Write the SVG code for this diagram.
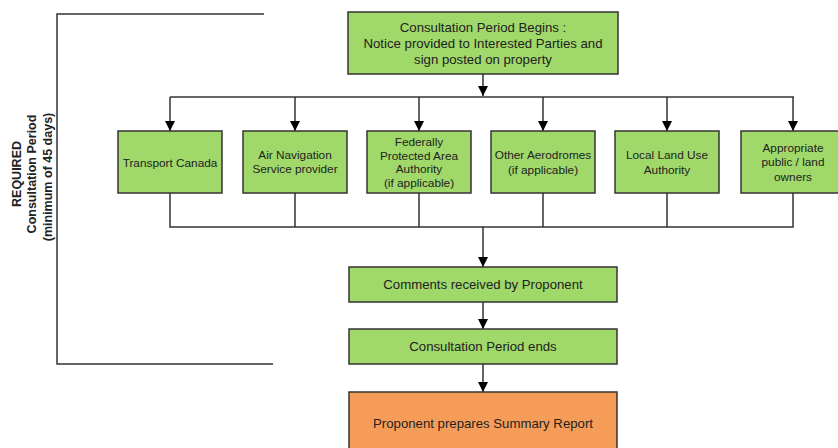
<svg xmlns="http://www.w3.org/2000/svg" width="838" height="448" viewBox="0 0 838 448">
<style>
.g{fill:#a0d86a;stroke:#333;stroke-width:1.5}
.o{fill:#f59d58;stroke:#333;stroke-width:1.5}
.t{font-family:"Liberation Sans",Arial,sans-serif;font-size:11.8px;fill:#222;text-anchor:middle}
.b{font-size:13.2px}
.l{font-family:"Liberation Sans",Arial,sans-serif;font-size:12.5px;font-weight:bold;fill:#222;text-anchor:middle}
.c{fill:none;stroke:#333;stroke-width:1.5}
</style>
<defs>
<marker id="a" markerWidth="10" markerHeight="12" refX="10" refY="5" orient="auto" markerUnits="userSpaceOnUse">
<path d="M0,0 L10,5 L0,10 Z" fill="#000"/>
</marker>
</defs>
<rect width="838" height="448" fill="#fff"/>
<g id="bracket">
<path class="c" d="M264,14 H57 V364 H273"/>
<text class="l" transform="translate(21,174) rotate(-90)">REQUIRED</text>
<text class="l" transform="translate(36,174) rotate(-90)">Consultation Period</text>
<text class="l" transform="translate(52,177) rotate(-90)">(minimum of 45 days)</text>
</g>
<g id="connectors">
<path class="c" d="M483,74 V96" marker-end="url(#a)"/>
<path class="c" d="M170,97 H794"/>
<path class="c" d="M170,97 V131" marker-end="url(#a)"/>
<path class="c" d="M295,97 V131" marker-end="url(#a)"/>
<path class="c" d="M419,97 V131" marker-end="url(#a)"/>
<path class="c" d="M543,97 V131" marker-end="url(#a)"/>
<path class="c" d="M667,97 V131" marker-end="url(#a)"/>
<path class="c" d="M793,97 V131" marker-end="url(#a)"/>
<path class="c" d="M170,193 V227 H793 V193 M295,193 V227 M419,193 V227 M543,193 V227 M667,193 V227"/>
<path class="c" d="M483,227 V267" marker-end="url(#a)"/>
<path class="c" d="M483,302 V329" marker-end="url(#a)"/>
<path class="c" d="M483,364 V392" marker-end="url(#a)"/>
</g>
<g id="start">
<rect class="g" x="348" y="12" width="270" height="62"/>
<text class="t b" x="483" y="32">Consultation Period Begins :</text>
<text class="t b" x="483" y="48">Notice provided to Interested Parties and</text>
<text class="t b" x="483" y="64">sign posted on property</text>
</g>
<g id="transport">
<rect class="g" x="118" y="131" width="104" height="62"/>
<text class="t" x="170" y="167">Transport Canada</text>
</g>
<g id="airnav">
<rect class="g" x="243" y="131" width="104" height="62"/>
<text class="t" x="295" y="159">Air Navigation</text>
<text class="t" x="295" y="173">Service provider</text>
</g>
<g id="federal">
<rect class="g" x="367" y="131" width="104" height="62"/>
<text class="t" x="419" y="146">Federally</text>
<text class="t" x="419" y="160">Protected Area</text>
<text class="t" x="419" y="173">Authority</text>
<text class="t" x="419" y="187">(if applicable)</text>
</g>
<g id="aerodromes">
<rect class="g" x="491" y="131" width="104" height="62"/>
<text class="t" x="543" y="159">Other Aerodromes</text>
<text class="t" x="543" y="174">(if applicable)</text>
</g>
<g id="landuse">
<rect class="g" x="615" y="131" width="104" height="62"/>
<text class="t" x="667" y="159">Local Land Use</text>
<text class="t" x="667" y="174">Authority</text>
</g>
<g id="owners">
<rect class="g" x="741" y="131" width="104" height="62"/>
<text class="t" x="793" y="152">Appropriate</text>
<text class="t" x="793" y="166">public / land</text>
<text class="t" x="793" y="181">owners</text>
</g>
<g id="comments">
<rect class="g" x="349" y="267" width="268" height="35"/>
<text class="t b" x="483" y="289">Comments received by Proponent</text>
</g>
<g id="ends">
<rect class="g" x="349" y="329" width="268" height="35"/>
<text class="t b" x="483" y="351">Consultation Period ends</text>
</g>
<g id="report">
<rect class="o" x="349" y="392" width="268" height="70"/>
<text class="t b" x="483" y="428">Proponent prepares Summary Report</text>
</g>
</svg>
